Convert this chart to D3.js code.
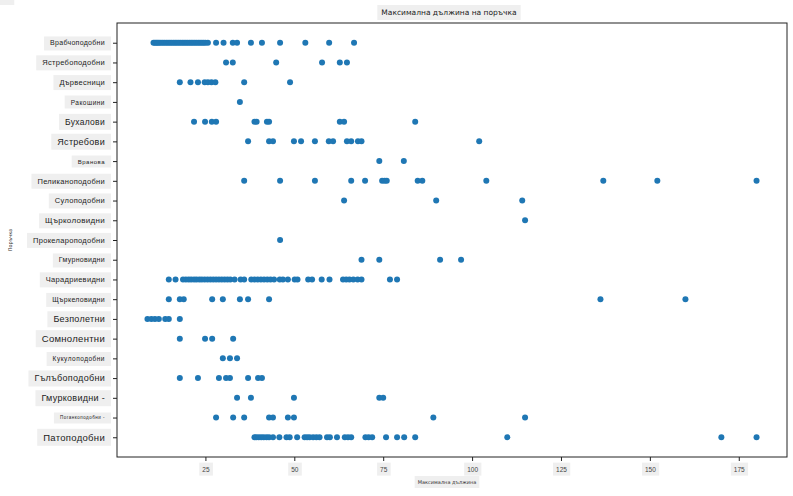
<!DOCTYPE html>
<html>
<head>
<meta charset="utf-8">
<script src="https://cdn.jsdelivr.net/npm/d3@7"></script>
<style>
  body { margin: 0; background: #fff; }
  svg { font-family: "DejaVu Sans", sans-serif; }
</style>
</head>
<body>
<svg id="chart" width="793" height="496"></svg>
<script>
// categories, top to bottom
var orders = [
  "Врабчоподобни", "Ястребоподобни", "Дървесници", "Ракошини", "Бухалови",
  "Ястребови", "Вранова", "Пеликаноподобни", "Сулоподобни", "Щърколовидни",
  "Прокелароподобни", "Гмурновидни", "Чарадриевидни", "Щъркеловидни", "Безполетни",
  "Сомнолентни", "Кукулоподобни", "Гълъбоподобни", "Гмурковидни -", "Поганкоподобни -",
  "Патоподобни"
];

// max length values per order (same order as above)
var lengths = [
  [10.4, 10.8, 11.2, 11.6, 12, 12.5, 13, 13.5, 14, 14.5, 15, 15.5, 16, 16.5, 17, 17.5, 18, 18.5, 19, 19.5,
   20, 20.5, 21, 21.5, 22, 22.5, 23, 23.5, 24, 24.5, 25, 25.7, 28, 30.1, 32.7, 33.9, 37.8, 40.9, 46, 53.1, 59.8, 66.8],
  [30.8, 32.7, 44.9, 57.8, 62.8, 64.8],
  [17.8, 20.8, 22.9, 24.8, 25.7, 26.7, 27.8, 35.9, 48.8],
  [34.7],
  [21.8, 24.9, 26.8, 28, 38.8, 39.4, 42.3, 42.9, 62.8, 64, 84],
  [37, 42.9, 44, 49.9, 51.9, 55.8, 59.7, 60.9, 64.8, 66, 67.9, 68.9, 102],
  [73.9, 80.8],
  [35.9, 46, 55.8, 66, 69.9, 74.7, 75.4, 76, 84.7, 86, 104, 136.9, 152.1, 180],
  [64, 89.9, 114.1],
  [114.9],
  [46],
  [68.9, 73.9, 91, 96.9],
  [14.7, 16.6, 18.7, 19.5, 20.3, 21, 21.8, 22.5, 23.3, 24, 24.8, 25.6, 26.4, 27.2, 28, 28.8, 29.6, 30.4,
   31.2, 32, 33.2, 34.9, 35.9, 37.9, 38.8, 39.7, 40.6, 41.5, 42.4, 43.3, 44.3, 45.9, 46.8, 48.2, 50.1,
   50.9, 53.9, 55, 57.7, 59.9, 63.7, 64.6, 65.5, 66.6, 67.8, 68.9, 76.9, 78.9],
  [14.7, 17.8, 18.9, 26.9, 29.9, 34.7, 37, 42.9, 136.1, 160],
  [8.7, 9.8, 10.8, 11.9, 13.7, 14.7, 17.8],
  [17.8, 24.9, 26.9, 32.8],
  [29.9, 31.9, 33.9],
  [17.8, 22.9, 28.8, 30.8, 31.9, 37, 39.8, 40.9],
  [33.9, 37.8, 49.9, 73.9, 75],
  [28, 32.8, 35.9, 42.9, 44, 48.2, 49.9, 89.1, 114.9],
  [38.8, 39.3, 40, 40.7, 41.4, 42.2, 42.9, 44, 45.8, 47.8, 48.7, 50.8, 52.9, 53.6, 54.3, 55.3, 56.2,
   57.1, 59.2, 60, 62, 64.2, 65.1, 66, 70, 70.9, 71.9, 75.8, 78.9, 80.9, 84, 109.9, 170.1, 180]
];

var xTicks = [25, 50, 75, 100, 125, 150, 175];

var chartTitle = "Максимална дължина на поръчка";
var xTitle = "Максимална дължина";
var yTitle = "Поръчка";

// label font sizes (the picture uses uneven sizes)
var labelSizes = [7, 7.5, 7.5, 6.5, 8.5, 9, 6, 7.5, 7.5, 8, 7.5, 7, 7.5, 7, 9, 9.5, 6.5, 9, 9, 4.5, 9.5];

var margin = {top: 23, right: 6, bottom: 39, left: 117};
var width = 793 - margin.left - margin.right,
    height = 496 - margin.top - margin.bottom;

var svg = d3.select("#chart");
var g = svg.append("g").attr("transform", "translate(" + margin.left + "," + margin.top + ")");

var points = [];
orders.forEach(function(o, i) {
  lengths[i].forEach(function(v) { points.push({order: o, value: v}); });
});

var xmin = d3.min(points, function(d) { return d.value; }),
    xmax = d3.max(points, function(d) { return d.value; }),
    pad = (xmax - xmin) * 0.05;

var x = d3.scaleLinear().domain([xmin - pad, xmax + pad]).range([0, width]);
var y = d3.scalePoint().domain(orders).range([0, height]).padding(1);

// put a grey box behind a text node
function boxBehind(sel, px, py) {
  sel.each(function() {
    var t = d3.select(this);
    var bb = this.getBBox();
    d3.select(this.parentNode).insert("rect", function() { return t.node(); })
      .attr("x", bb.x - px).attr("y", bb.y - py)
      .attr("width", bb.width + 2 * px).attr("height", bb.height + 2 * py)
      .attr("fill", "#efefef");
  });
}

// y axis
var yAxis = g.append("g").call(d3.axisLeft(y).tickSize(4).tickPadding(8));
yAxis.select(".domain").remove();
yAxis.selectAll(".tick line").attr("stroke", "#222");
yAxis.selectAll(".tick text")
  .attr("fill", "#222")
  .style("font-size", function(d, i) { return labelSizes[i] + "px"; })
  .style("letter-spacing", function(d, i) { return labelSizes[i] < 7 ? "0.5px" : "0.3px"; })
  .call(boxBehind, 6, 3);

// x axis
var xAxis = g.append("g").attr("transform", "translate(0," + height + ")")
  .call(d3.axisBottom(x).tickValues(xTicks).tickSize(4).tickPadding(6));
xAxis.select(".domain").remove();
xAxis.selectAll(".tick line").attr("stroke", "#222");
xAxis.selectAll(".tick text")
  .attr("fill", "#444")
  .style("font-size", "6.5px")
  .call(boxBehind, 3, 3);

// frame
g.append("rect")
  .attr("width", width).attr("height", height)
  .attr("fill", "none").attr("stroke", "#222").attr("stroke-width", 1);

// points
g.append("g").selectAll("circle").data(points).enter().append("circle")
  .attr("cx", function(d) { return x(d.value); })
  .attr("cy", function(d) { return y(d.order); })
  .attr("r", 3)
  .attr("fill", "#1f77b4");

// titles
svg.append("text")
  .attr("x", margin.left + width / 2 - 3).attr("y", 15)
  .attr("text-anchor", "middle")
  .style("font-size", "7.5px").attr("fill", "#222")
  .text(chartTitle)
  .call(boxBehind, 4, 3);

svg.append("text")
  .attr("x", margin.left + width / 2 - 5).attr("y", 484)
  .attr("text-anchor", "middle")
  .style("font-size", "5px").attr("fill", "#333")
  .text(xTitle)
  .call(boxBehind, 3, 3);

svg.append("text")
  .attr("transform", "translate(12," + (margin.top + height / 2) + ") rotate(-90)")
  .attr("text-anchor", "middle")
  .style("font-size", "5px").attr("fill", "#333")
  .text(yTitle)
  .call(boxBehind, 3, 3);
</script>
</body>
</html>
